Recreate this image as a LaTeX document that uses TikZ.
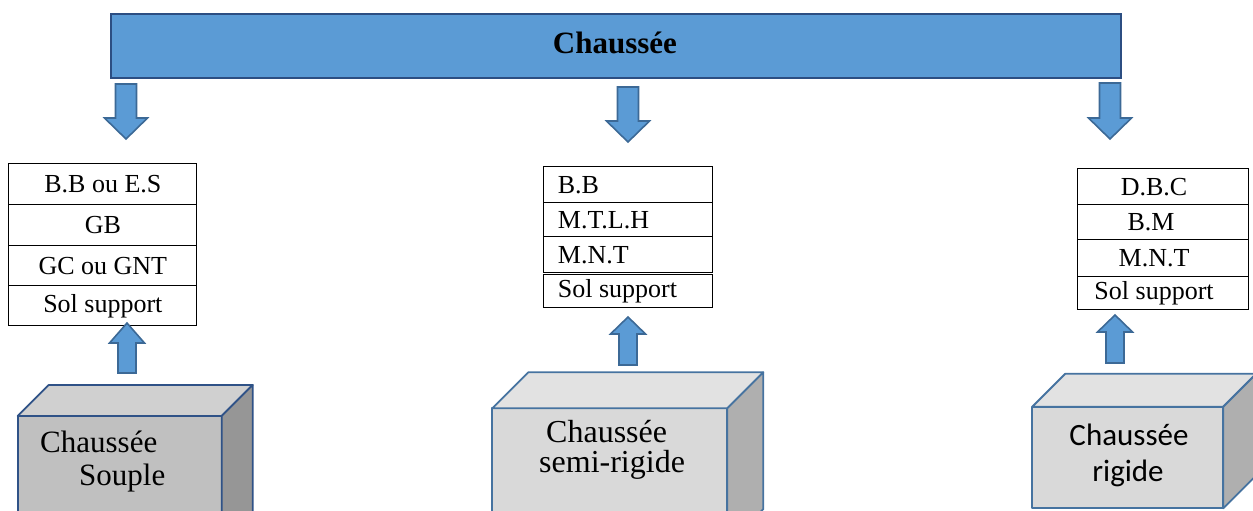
\documentclass[tikz,border=0pt]{standalone}
\usepackage{fontspec}
\setmainfont{Liberation Serif}
\newfontfamily\calib{Carlito}
\definecolor{hdrfill}{RGB}{91,155,213}
\definecolor{hdrline}{RGB}{44,78,130}
\definecolor{arrline}{RGB}{60,105,150}
\definecolor{boxlineA}{RGB}{47,82,135}
\definecolor{boxlineB}{RGB}{70,115,160}
\definecolor{frontA}{RGB}{192,192,192}
\definecolor{topA}{RGB}{208,208,208}
\definecolor{sideA}{RGB}{150,150,150}
\definecolor{frontB}{RGB}{217,217,217}
\definecolor{topB}{RGB}{226,226,226}
\definecolor{sideB}{RGB}{175,175,175}
\newcommand\dnarrow[4]{%
  \filldraw[blockarrow] (#1-10.5,#2) -- (#1+10.5,#2) -- (#1+10.5,#3) -- (#1+21.5,#3)
    -- (#1,#4) -- (#1-21.5,#3) -- (#1-10.5,#3) -- cycle;}
\newcommand\uparrowshape[4]{%
  \filldraw[blockarrow] (#1-9,#2) -- (#1+9,#2) -- (#1+9,#3) -- (#1+17.5,#3)
    -- (#1,#4) -- (#1-17.5,#3) -- (#1-9,#3) -- cycle;}
\newcommand\cuboid[9]{% x1 y1 x2 y2 d front top side line
  \filldraw[draw=#9, line width=1.8pt, line join=round, fill=#6] (#1,#2) rectangle (#3,#4);
  \filldraw[draw=#9, line width=1.8pt, line join=round, fill=#7] (#1,#2) -- (#1+#5,#2-#5) -- (#3+#5,#2-#5) -- (#3,#2) -- cycle;
  \filldraw[draw=#9, line width=1.8pt, line join=round, fill=#8] (#3,#2) -- (#3+#5,#2-#5) -- (#3+#5,#4-#5) -- (#3,#4) -- cycle;}
\begin{document}
\begin{tikzpicture}[x=1pt,y=-1pt,
  blockarrow/.style={draw=arrline, line width=1.6pt, line join=miter, fill=hdrfill},
  cell/.style={draw=black, line width=1.1pt, inner sep=0pt, anchor=north west,
    font=\fontsize{26}{26}\selectfont},
  celltext/.style={inner sep=0pt, font=\fontsize{26}{26}\selectfont},
  boxtext/.style={inner sep=0pt, font=\fontsize{31}{31}\selectfont}]
\useasboundingbox (0,0) rectangle (1253,511);
\clip (0,0) rectangle (1253,511);

% header
\node[draw=hdrline, line width=1.8pt, fill=hdrfill, minimum width=1010pt,
  minimum height=64pt, inner sep=0pt, anchor=north west] (hdr) at (110,13) {};
\node[inner sep=0pt, anchor=base, font=\fontsize{31}{31}\selectfont\bfseries] (title) at (615,53.3) {Chaussée};

% down arrows
\dnarrow{126}{84}{118}{139}
\dnarrow{628}{87}{121}{142}
\dnarrow{1110}{83}{118}{139}

% left table
\node[cell, minimum width=188pt, minimum height=41pt] (L1) at (8.3,163.3) {B.B ou E.S};
\node[cell, minimum width=188pt, minimum height=40.5pt] (L2) at (8.3,204.3) {GB};
\node[cell, minimum width=188pt, minimum height=40.5pt] (L3) at (8.3,244.8) {GC ou GNT};
\node[cell, minimum width=188pt, minimum height=40pt] (L4) at (8.3,285.3) {Sol support};

% middle table
\node[cell, minimum width=169pt, minimum height=36.3pt] (M1) at (543.3,166) {};
\node[cell, minimum width=169pt, minimum height=34pt] (M2) at (543.3,202.3) {};
\node[cell, minimum width=169pt, minimum height=36pt] (M3) at (543.3,236.3) {};
\node[cell, minimum width=169pt, minimum height=33.5pt] (M4) at (543.3,273.5) {};
\node[celltext, anchor=west] (M1t) at ([xshift=14.4pt]M1.west) {B.B};
\node[celltext, anchor=west] (M2t) at ([xshift=14.4pt]M2.west) {M.T.L.H};
\node[celltext, anchor=west] (M3t) at ([xshift=14.4pt]M3.west) {M.N.T};
\node[celltext, anchor=west] (M4t) at ([xshift=14.4pt]M4.west) {Sol support};

% right table
\node[cell, minimum width=170.4pt, minimum height=36pt] (R1) at (1077.3,168.3) {};
\node[cell, minimum width=170.4pt, minimum height=35pt] (R2) at (1077.3,204.3) {};
\node[cell, minimum width=170.4pt, minimum height=36.4pt] (R3) at (1077.3,239.3) {};
\node[cell, minimum width=170.4pt, minimum height=33.6pt] (R4) at (1077.3,275.7) {};
\node[celltext] (R1t) at ([xshift=-9pt]R1.center) {D.B.C};
\node[celltext] (R2t) at ([xshift=-12pt]R2.center) {B.M};
\node[celltext] (R3t) at ([xshift=-9pt]R3.center) {M.N.T};
\node[celltext] (R4t) at ([xshift=-9pt]R4.center) {Sol support};

% up arrows
\uparrowshape{127}{373}{343}{323}
\uparrowshape{628}{365}{334}{317}
\uparrowshape{1115}{363}{332}{315}

% 3D boxes
\cuboid{17.7}{416}{221.7}{545}{31}{frontA}{topA}{sideA}{boxlineA}
\cuboid{492.3}{408.3}{727.3}{545}{36}{frontB}{topB}{sideB}{boxlineB}
\cuboid{1032.3}{406.7}{1223.3}{508.3}{33}{frontB}{topB}{sideB}{boxlineB}

\node[boxtext, anchor=base west] (s1) at (40,452.7) {Chaussée};
\node[boxtext, anchor=base west] (s2) at (79,485) {Souple};
\node[boxtext, anchor=base west, font=\fontsize{32}{32}\selectfont] (m1) at (546,442) {Chaussée};
\node[boxtext, anchor=base west, font=\fontsize{32}{32}\selectfont] (m2) at (539,472) {semi-rigide};
\node[boxtext, anchor=base, font=\calib\fontsize{31}{31}\selectfont] (r1) at (1129,445) {Chaussée};
\node[boxtext, anchor=base, font=\calib\fontsize{31}{31}\selectfont] (r2) at (1128,481.7) {rigide};
\end{tikzpicture}
\end{document}
